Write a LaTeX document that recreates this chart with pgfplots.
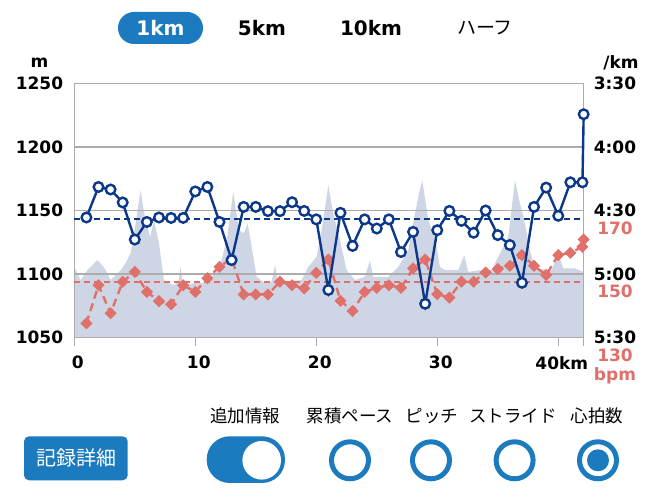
\documentclass[border=0pt]{standalone}
\usepackage{fontspec}
\setmainfont{DejaVu Sans}
\newfontfamily\jp{Noto Sans CJK JP}
\usepackage{pgfplots}
\pgfplotsset{compat=1.18}
\definecolor{navy}{RGB}{12,56,138}
\definecolor{hrred}{RGB}{224,112,106}
\definecolor{elev}{RGB}{206,214,230}
\definecolor{uiblue}{RGB}{28,123,190}
\definecolor{gridgray}{RGB}{172,172,172}
\newcommand{\tickfont}{\bfseries\fontsize{17}{17}\selectfont}
\begin{document}
\begin{tikzpicture}[x=1pt,y=1pt]
\useasboundingbox (0,0) rectangle (645,497);

% ---------- elevation axis ----------
\begin{axis}[
  at={(74.3pt,159.3pt)}, anchor=south west,
  scale only axis, width=509pt, height=254.4pt,
  xmin=0, xmax=42.07, ymin=1050, ymax=1250,
  axis on top,
  axis line style={draw=gridgray, line width=1.5pt},
  xtick={0,10,20,30,40}, xticklabels={0,10,20,30,40km},
  extra x ticks={42.07}, extra x tick labels={},
  ytick={1050,1100,1150,1200,1250},
  yticklabels={1050,1100,1150,1200,1250},
  ymajorgrids, grid style={gridgray, line width=1.5pt},
  tick align=outside, major tick length=8pt,
  xtick style={draw=gridgray, line width=1.5pt},
  ytick style={draw=none},
  xtick pos=bottom, ytick pos=left,
  xticklabel style={font=\tickfont, xshift=3.5pt, yshift=-7pt},
  yticklabel style={font=\tickfont, anchor=east, inner sep=0pt, xshift=-3pt},
]
\addplot[fill=elev, draw=none] coordinates {
(0,1105.7) (0.53,1095.3) (1.07,1103.1) (1.5,1107) (1.9,1111) (2.3,1107)
(2.6,1103.1) (3.0,1095.3) (3.4,1099) (3.83,1103.1) (4.2,1108) (4.66,1116.5)
(5.07,1140) (5.3,1155) (5.49,1165.9) (5.7,1152) (5.9,1142.4) (6.26,1129.3)
(6.59,1142.4) (7.0,1124.3) (7.41,1095.3) (7.8,1093) (8.24,1091.4) (8.6,1094)
(8.79,1105.7) (8.95,1094) (9.07,1091.4) (10,1093) (11.0,1093) (11.82,1103.1)
(12.2,1112) (12.64,1129.3) (12.9,1148) (13.14,1164.6) (13.61,1134.5) (14.0,1132)
(14.33,1139.8) (14.66,1121.4) (15.07,1097.9) (15.76,1092.7) (16.3,1094)
(16.59,1107.1) (16.86,1094) (17.8,1094.5) (18.79,1095.3) (19.34,1105.7)
(20.03,1113.6) (20.58,1142.4) (20.99,1169.9) (21.4,1147.7) (21.96,1126.7)
(22.51,1103.1) (23.2,1095.3) (24.02,1097.9) (24.44,1111) (24.71,1097.9)
(25.95,1097.9) (26.78,1105.7) (27.6,1118.8) (28.16,1147.7) (28.49,1163.6)
(28.76,1173.8) (29.26,1142.4) (29.81,1129.3) (30.22,1105.7) (30.64,1103.1)
(31.74,1103.1) (32.23,1114.9) (32.56,1101.8) (33.5,1103) (34.5,1103.1)
(35.04,1113.6) (35.87,1129.3) (36.42,1173.8) (36.84,1155.5) (37.25,1139.8)
(37.66,1118.8) (38.08,1104.5) (39.45,1103.1) (40.0,1116.3) (40.41,1104.5)
(41.38,1104.5) (42.07,1101.8)
} \closedcycle;
\end{axis}

% ---------- heart-rate axis ----------
\begin{axis}[
  at={(74.3pt,159.3pt)}, anchor=south west,
  scale only axis, width=509pt, height=254.4pt,
  xmin=0, xmax=42.07, ymin=130, ymax=210,
  axis line style={draw=none}, clip=false,
  xtick=\empty,
  ytick={130,150,170}, yticklabels={130,150,170},
  yticklabel pos=right, tick style={draw=none}, tick align=inside,
  yticklabel style={font=\tickfont, text=hrred, anchor=center, xshift=31.7pt, yshift=-17.5pt},
]
\addplot[hrred, line width=2pt, dash pattern=on 6pt off 4pt] coordinates {(0,147.6) (42.07,147.6)};
\addplot[hrred, line width=2.4pt, dash pattern=on 8pt off 5pt,
  mark=square*, mark size=4pt, mark options={solid, rotate=45, fill=hrred, draw=hrred, line width=0.5pt}]
coordinates {
(1,134.5) (2,146.5) (3,137.7) (4,147.6) (5,150.7) (6,144.4) (7,141.5) (8,140.5)
(9,146.5) (10,144.4) (11,148.7) (12,152.3) (13,154.9) (14,143.6) (15,143.6)
(16,143.6) (17,147.6) (18,146.5) (19,145.5) (20,150.4) (21,154.6) (22,141.6)
(23,138.4) (24,144.4) (25,145.7) (26,146.5) (27,145.7) (28,151.8) (29,154.6)
(30,143.7) (31,142.6) (32,147.6) (33,147.6) (34,150.5) (35,151.6) (36,152.6)
(37,156) (38,152.6) (39,149.7) (40,156) (41,156.7) (42,158.6) (42.1,160.9)
};
\end{axis}

% ---------- pace axis ----------
\begin{axis}[
  at={(74.3pt,159.3pt)}, anchor=south west,
  scale only axis, width=509pt, height=254.4pt,
  xmin=0, xmax=42.07, ymin=210, ymax=330, y dir=reverse,
  axis line style={draw=none}, clip=false,
  xtick=\empty,
  ytick={210,240,270,300,330}, yticklabels={3:30,4:00,4:30,5:00,5:30},
  yticklabel pos=right, tick style={draw=none}, tick align=inside,
  yticklabel style={font=\tickfont, anchor=center, xshift=31.7pt},
]
\addplot[navy, line width=2pt, dash pattern=on 6pt off 4pt] coordinates {(0,274.1) (42.07,274.1)};
\addplot[navy, line width=2.4pt, mark=*, mark size=4.8pt,
  mark options={fill=white, draw=navy, line width=2.4pt}]
coordinates {
(1,273.3) (2,258.9) (3,260.1) (4,266.2) (5,283.7) (6,275.4) (7,273.3) (8,273.5)
(9,273.5) (10,261) (11,258.9) (12,275.4) (13,293.4) (14,268.3) (15,268.3)
(16,270.3) (17,270.3) (18,266.1) (19,270.2) (20,274.2) (21,307.5) (22,271.1)
(23,286.7) (24,274.2) (25,278.5) (26,274.2) (27,289.6) (28,280.1) (29,314)
(30,279.3) (31,270.2) (32,274.9) (33,280.5) (34,270) (35,281.6) (36,286.3)
(37,304.1) (38,268.3) (39,259.2) (40,272.5) (41,256.7) (42,256.7) (42.1,224.6)
};
\end{axis}

% ---------- texts and UI ----------
\node[font=\tickfont] at (39.6,434.5) {m};
\node[font=\tickfont] at (621,434.5) {/km};
\node[font=\tickfont, text=hrred] at (615,121) {bpm};

\fill[uiblue, rounded corners=16pt] (118,453) rectangle (203,485);
\node[font=\bfseries\fontsize{20}{20}\selectfont, text=white] at (160.5,469) {1km};
\node[font=\bfseries\fontsize{20}{20}\selectfont] at (262,469) {5km};
\node[font=\bfseries\fontsize{20}{20}\selectfont] at (371,469) {10km};
\node[font=\jp\fontsize{19}{19}\selectfont] at (485,469) {ハーフ};

\begin{scope}[every node/.style={font=\jp\fontsize{17.5}{17.5}\selectfont}]
\node at (245,81) {追加情報};
\node at (350,81) {累積ペース};
\node at (432,81) {ピッチ};
\node at (513,81) {ストライド};
\node at (597,81) {心拍数};
\end{scope}

\fill[uiblue, rounded corners=5pt] (24,16.7) rectangle (127.7,60.7);
\node[font=\jp\fontsize{20}{20}\selectfont, text=white] at (76,39) {記録詳細};

\fill[uiblue, rounded corners=23pt] (206.7,14) rectangle (285,60.7);
\fill[white] (261.7,36.7) circle (19.3);

\foreach \cx in {350,431,514.6,598} {
  \draw[uiblue, line width=5pt] (\cx,36.7) circle (18.5);
}
\fill[uiblue] (598,36.7) circle (11);
\end{tikzpicture}
\end{document}
